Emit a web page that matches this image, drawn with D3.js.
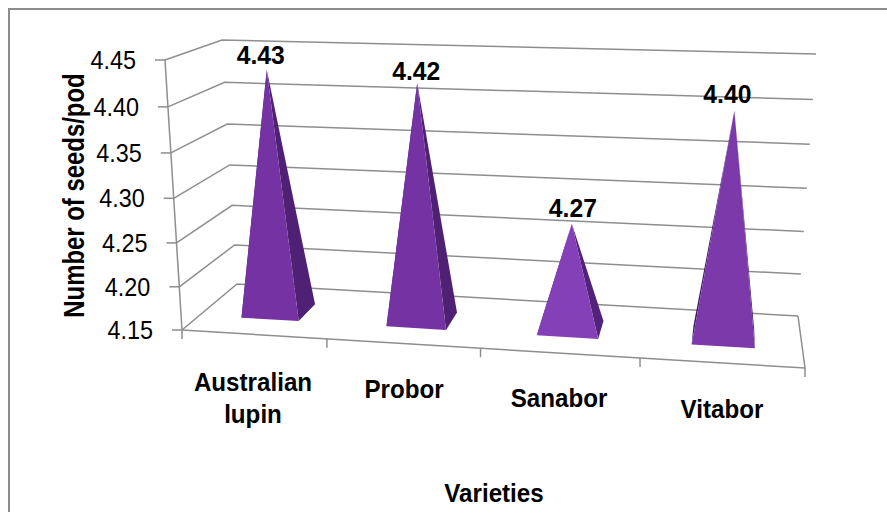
<!DOCTYPE html>
<html>
<head>
<meta charset="utf-8">
<script src="https://cdn.jsdelivr.net/npm/d3@7"></script>
<style>
html,body{margin:0;padding:0;background:#fff;overflow:hidden}
text{font-family:"Liberation Sans",Arial,sans-serif;fill:#000}
</style>
</head>
<body>
<svg id="chart" width="887" height="512"></svg>
<script>
// Chart data
const categories = ["Australian lupin", "Probor", "Sanabor", "Vitabor"];
const seedsPerPod = [4.43, 4.42, 4.27, 4.40];
const valueTicks = [4.15, 4.20, 4.25, 4.30, 4.35, 4.40, 4.45];
const categoryLines = [["Australian", "lupin"], ["Probor"], ["Sanabor"], ["Vitabor"]];
const frontColors = ["#7432a3", "#7432a3", "#8440b6", "#7b39a9"];
const sideColors = ["#4f2175", "#4f2175", "#52237a", "#3f1a63"];

// Box corners on screen: floor and ceiling of the 3D plot volume
const floorQuad = {fl: [182, 330], fr: [805, 368], br: [798, 316], bl: [237, 284]};
const ceilQuad = {fl: [165, 60], fr: [825, 77], br: [816, 54], bl: [222, 40]};

// Projective map of the unit square onto a quadrilateral
function homography(q) {
  const [x0, y0] = q.fl, [x1, y1] = q.fr, [x2, y2] = q.br, [x3, y3] = q.bl;
  const dx1 = x1 - x2, dx2 = x3 - x2, sx = x0 - x1 + x2 - x3;
  const dy1 = y1 - y2, dy2 = y3 - y2, sy = y0 - y1 + y2 - y3;
  const det = dx1 * dy2 - dx2 * dy1;
  const g = (sx * dy2 - dx2 * sy) / det;
  const h = (dx1 * sy - sx * dy1) / det;
  const a = x1 - x0 + g * x1, b = x3 - x0 + h * x3;
  const d = y1 - y0 + g * y1, e = y3 - y0 + h * y3;
  return (u, w) => {
    const k = g * u + h * w + 1;
    return [(a * u + b * w + x0) / k, (d * u + e * w + y0) / k];
  };
}
const floorAt = homography(floorQuad);
const ceilAt = homography(ceilQuad);

// Scales: value to height fraction, category to position along the floor
const heightScale = d3.scaleLinear().domain([valueTicks[0], valueTicks[valueTicks.length - 1]]).range([0, 1]);
const xBand = d3.scaleBand().domain(categories).range([0, 1]);
const tickAcross = d3.scalePow().exponent(1.025).domain([0, 1]).range([0, 1]);
const markAcross = d3.scalePow().exponent(1.014).domain([0, 1]).range([0, 1]);
const baseShare = 0.4;

// 3D point (us across, w into depth, v data value) to screen
function project(us, w, v) {
  const t = heightScale(v);
  const tp = t / (t + (1 - t) * 1.05);
  const a = floorAt(us, w), b = ceilAt(us, w);
  return [a[0] + (b[0] - a[0]) * tp, a[1] + (b[1] - a[1]) * tp];
}

const svg = d3.select("#chart");
const line = d3.line();
const GRID = "#8e8e8e";
const grid = svg.append("g").attr("fill", "none").attr("stroke", GRID).attr("stroke-width", 1.5);

// Outer chart border (open to the right and bottom edges)
svg.append("path").attr("d", "M9,512V9H887").attr("fill", "none").attr("stroke", "#8c8c8c").attr("stroke-width", 2);

const vMin = valueTicks[0];

// Gridlines on the side and back walls
valueTicks.forEach(v => {
  grid.append("path").attr("d", line([project(0, 0, v), project(0, 1, v), project(1, 1, v)]));
});
// Floor outline and vertical edges
grid.append("path").attr("d", line([project(0, 0, vMin), project(1, 0, vMin), project(1, 1, vMin)]));
grid.append("path").attr("d", line([project(0, 0, vMin), project(0, 0, valueTicks[valueTicks.length - 1])]));

// Value-axis ticks and labels
function label(x, y, str, opt) {
  const o = Object.assign({size: 24, sx: 0.9, weight: "normal", rotate: 0, anchor: "middle"}, opt);
  svg.append("text")
    .attr("transform", `translate(${x},${y}) rotate(${o.rotate}) scale(${o.sx},1)`)
    .attr("text-anchor", o.anchor)
    .attr("font-size", o.size)
    .attr("font-weight", o.weight)
    .text(str);
}
valueTicks.forEach(v => {
  const p = project(0, 0, v);
  grid.append("path").attr("d", line([[p[0] - 10, p[1]], p]));
  label(p[0] - 29, p[1] + 9, d3.format(".2f")(v), {anchor: "end", size: 26, sx: 0.9});
});

// Category ticks on the front floor edge
d3.range(categories.length + 1).forEach(i => {
  const p = project(tickAcross(i / categories.length), 0, vMin);
  grid.append("path").attr("d", line([p, [p[0], p[1] + 9]]));
});

// Pyramids: side faces first, then the front face over them
const wFront = 0.30, wBack = 0.66;
const labelShift = [[-6, -6], [-1, -3], [1, -7], [-7, -8]];
categories.forEach((c, i) => {
  const uc = xBand(c) + xBand.bandwidth() / 2;
  const half = xBand.bandwidth() * baseShare / 2;
  const uL = markAcross(uc - half), uR = markAcross(uc + half), uM = markAcross(uc);
  const fl = project(uL, wFront, vMin), fr = project(uR, wFront, vMin);
  const bl = project(uL, wBack, vMin), br = project(uR, wBack, vMin);
  const apex = project(uM, (wFront + wBack) / 2, seedsPerPod[i]);
  const g = svg.append("g");
  g.append("path").attr("d", line([fl, bl, apex]) + "Z").attr("fill", sideColors[i]);
  g.append("path").attr("d", line([fr, br, apex]) + "Z").attr("fill", sideColors[i]);
  g.append("path").attr("d", line([fl, fr, apex]) + "Z").attr("fill", frontColors[i]);
  label(apex[0] + labelShift[i][0], apex[1] + labelShift[i][1], d3.format(".2f")(seedsPerPod[i]),
    {weight: "bold", size: 26, sx: 0.95});
});

// Category labels
const catPos = [[253, 391], [404, 398], [559, 407], [722, 418]];
categoryLines.forEach((lines, i) => {
  lines.forEach((t, k) => label(catPos[i][0], catPos[i][1] + k * 32, t, {weight: "bold", size: 26, sx: 0.93}));
});

// Axis titles
label(494, 502, "Varieties", {weight: "bold", size: 26, sx: 0.93});
label(84, 195.5, "Number of seeds/pod", {weight: "bold", size: 30, sx: 0.797, rotate: -90});
</script>
</body>
</html>
